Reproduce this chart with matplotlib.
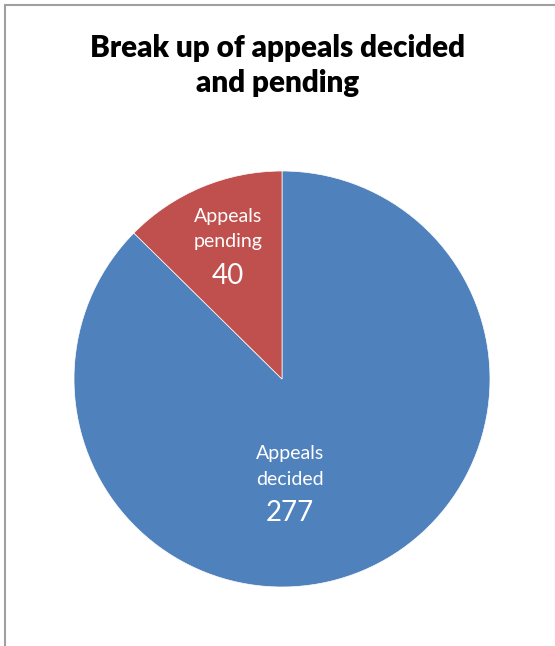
import matplotlib
matplotlib.use('Agg')
import matplotlib.pyplot as plt
from matplotlib.patches import Rectangle

plt.rcParams['font.family'] = ['Lato', 'DejaVu Sans']

labels = ['Appeals\ndecided', 'Appeals\npending']
values = [277, 40]
colors = ['#4F81BD', '#C0504D']
# label anchor points (data coords, relative to pie centre)
label_pos = [(0.04, -0.42), (-0.26, 0.72)]

fig = plt.figure(figsize=(5.55, 6.46), dpi=100)
fig.patches.append(Rectangle((5 / 555, -0.05), 1.2, 1 - 5 / 646 + 0.05,
                             transform=fig.transFigure, fill=False,
                             edgecolor='#a0a0a0', linewidth=1.5))

fig.text(0.5, 0.898, 'Break up of appeals decided\nand pending', ha='center',
         va='center', fontsize=21.3, fontweight='heavy', linespacing=1.3)

ax = fig.add_axes([74 / 555, 59 / 646, 416 / 555, 416 / 646])
ax.pie(values, colors=colors, startangle=90, counterclock=False, radius=1,
       wedgeprops={'edgecolor': 'white', 'linewidth': 0.5})
ax.set_xlim(-1, 1)
ax.set_ylim(-1, 1)
ax.set_aspect('equal')
ax.axis('off')

for lab, val, (x, y) in zip(labels, values, label_pos):
    ax.text(x, y, lab, ha='center', va='center', color='white', fontsize=14,
            linespacing=1.6)
    ax.text(x, y - 0.225, str(val), ha='center', va='center', color='white',
            fontsize=20)

fig.savefig('out.png', dpi=100)
